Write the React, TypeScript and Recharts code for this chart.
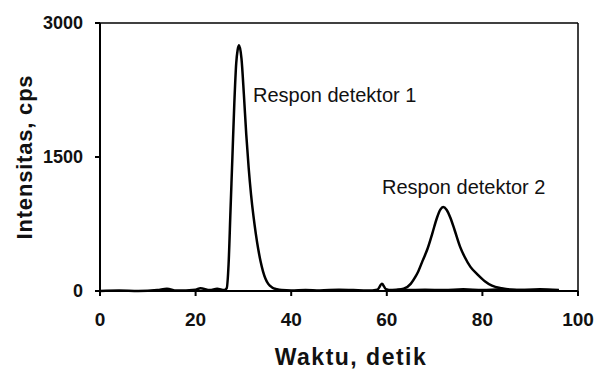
import { LineChart, Line, XAxis, YAxis, ReferenceLine, ReferenceDot, Label } from "recharts";

const xTicks = [0, 20, 40, 60, 80, 100];
const yTicks = [0, 1500, 3000];

// waktu (detik), intensitas (cps)
const detektor1Time = [
  0, 4, 8, 12, 14, 16, 20, 21, 23, 24.5, 26, 26.5, 26.9, 27.3, 27.7, 28.1, 28.5, 28.8, 29.1, 29.6,
  30.1, 30.6, 31.1, 31.6, 32.1, 32.6, 33.1, 33.6, 34.1, 34.6, 35.2, 36, 37, 38, 40, 43, 46, 50,
  53, 56, 58, 59, 59.8, 61, 64, 68, 72, 76, 80, 84, 88, 92, 96,
];
const detektor1Value = [
  0, 5, 0, 10, 25, 5, 15, 30, 10, 25, 10, 30, 300, 900, 1500, 2100, 2550, 2700, 2750, 2600,
  2200, 1750, 1380, 1080, 840, 640, 470, 330, 220, 140, 80, 40, 20, 10, 5, 10, 5, 15,
  10, 5, 15, 80, 20, 5, 10, 15, 10, 20, 10, 20, 10, 20, 10,
];

const detektor2Time = [
  60, 62, 63.5, 65, 66, 66.5, 67.5, 68.5, 69.5, 70.5, 71.2, 71.8, 72.5, 73.3, 74.2, 75.3, 76.3,
  77.5, 78.9, 80.5, 82, 84, 86, 90, 96,
];
const detektor2Value = [
  10, 15, 25, 80, 160, 210, 340, 470, 640, 820, 910, 940, 910, 820, 680, 500, 380,
  270, 190, 110, 60, 30, 15, 10, 5,
];

const detektor1 = detektor1Time.map((x, i) => ({ x, y: detektor1Value[i] }));
const detektor2 = detektor2Time.map((x, i) => ({ x, y: detektor2Value[i] }));

const font = "'Liberation Sans', Arial, sans-serif";

export default function App() {
  return (
    <div style={{ position: "absolute", left: 0, top: 0, background: "#fff" }}>
      <LineChart width={598} height={371} margin={{ top: 23, right: 20, bottom: 0, left: 0 }}>
        <XAxis
          type="number"
          dataKey="x"
          domain={[0, 100]}
          ticks={xTicks}
          height={80}
          stroke="#000"
          strokeWidth={2}
          tickSize={5}
          tickMargin={17}
          tick={{ fill: "#111", fontSize: 19, fontWeight: 700, fontFamily: font }}
        >
          <Label
            value="Waktu, detik"
            position="insideBottom"
            offset={6}
            dx={12}
            style={{ fill: "#111", fontSize: 23, fontWeight: 700, fontFamily: font, letterSpacing: 1.5 }}
          />
        </XAxis>
        <YAxis
          type="number"
          domain={[0, 3000]}
          ticks={yTicks}
          width={100}
          stroke="#000"
          strokeWidth={2}
          tickSize={5}
          tickMargin={12}
          tick={{ fill: "#111", fontSize: 18, fontWeight: 700, fontFamily: font }}
        >
          <Label
            content={({ viewBox }: any) => {
              const cy = viewBox.y + viewBox.height / 2;
              return (
                <text
                  x={24}
                  y={cy}
                  transform={`rotate(-90, 24, ${cy})`}
                  textAnchor="middle"
                  dominantBaseline="central"
                  style={{ fill: "#111", fontSize: 22, fontWeight: 700, fontFamily: font, letterSpacing: 0.8 }}
                >
                  Intensitas, cps
                </text>
              );
            }}
          />
        </YAxis>
        <ReferenceLine y={3000} stroke="#000" strokeWidth={1.5} />
        <ReferenceLine x={100} stroke="#000" strokeWidth={1.5} />
        <Line
          data={detektor1}
          dataKey="y"
          type="monotone"
          stroke="#000"
          strokeWidth={2.5}
          dot={false}
          isAnimationActive={false}
        />
        <Line
          data={detektor2}
          dataKey="y"
          type="monotone"
          stroke="#000"
          strokeWidth={2.5}
          dot={false}
          isAnimationActive={false}
        />
        <ReferenceDot
          x={32}
          y={2194}
          r={0}
          stroke="none"
          label={{ value: "Respon detektor 1", position: "right", offset: 0, fill: "#111", fontSize: 20, fontFamily: font }}
        />
        <ReferenceDot
          x={59}
          y={1164}
          r={0}
          stroke="none"
          label={{ value: "Respon detektor 2", position: "right", offset: 0, fill: "#111", fontSize: 20, fontFamily: font }}
        />
      </LineChart>
    </div>
  );
}
